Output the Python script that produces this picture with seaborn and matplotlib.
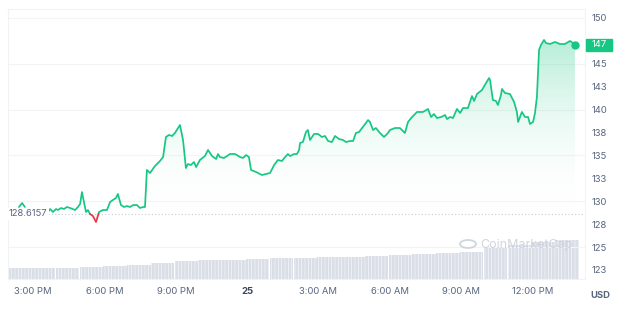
import numpy as np
import pandas as pd
import matplotlib
matplotlib.use("Agg")
import matplotlib.pyplot as plt
from matplotlib.patches import Circle, Rectangle
from matplotlib.path import Path
import matplotlib.transforms as mtransforms
import seaborn as sns

# ---- data (hours after 3:00 PM, price in USD) ----
hours = [-0.59, -0.46, -0.34, -0.20,
         0.63, 0.72, 0.84, 0.97, 1.05, 1.18, 1.30, 1.43, 1.56, 1.77, 1.89, 1.98,
         2.06, 2.15, 2.23, 2.31, 2.40, 2.52, 2.65, 2.78, 2.94, 3.11, 3.24, 3.36,
         3.49, 3.57, 3.70, 3.83, 3.95, 4.08, 4.21, 4.37, 4.50, 4.63, 4.71, 4.79,
         4.92, 5.13, 5.34, 5.47, 5.59, 5.72, 5.85, 5.97, 6.18, 6.31, 6.43, 6.52,
         6.64, 6.77, 6.86, 7.02, 7.23, 7.36, 7.53, 7.70, 7.78, 7.86, 8.03, 8.16,
         8.28, 8.50, 8.71, 8.83, 8.96, 9.08, 9.17, 9.38, 9.63, 9.80, 9.97, 10.14,
         10.30, 10.47, 10.60, 10.72, 10.81, 10.98, 11.10, 11.19, 11.23, 11.35,
         11.48, 11.56, 11.65, 11.82, 11.99, 12.15, 12.28, 12.41, 12.57, 12.70,
         12.87, 13.04, 13.16, 13.33, 13.46, 13.58, 13.71, 13.84, 14.00, 14.09,
         14.17, 14.30, 14.42, 14.59, 14.76, 14.93, 15.01, 15.22, 15.43, 15.64,
         15.77, 15.94, 16.15, 16.40, 16.61, 16.74, 16.86, 16.99, 17.16, 17.33,
         17.41, 17.54, 17.66, 17.83, 17.96, 18.08, 18.29, 18.46, 18.55, 18.67,
         18.88, 19.05, 19.18, 19.22, 19.34, 19.47, 19.55, 19.68, 19.72, 19.85,
         20.06, 20.23, 20.35, 20.40, 20.56, 20.69, 20.82, 20.90, 21.03, 21.11,
         21.19, 21.24, 21.28, 21.36, 21.49, 21.57, 21.74, 21.95, 22.16, 22.37,
         22.58, 22.71, 22.79]
prices = [129.37, 129.80, 129.37, None,
          128.82, 129.15, 128.82, 129.15, 129.04, 129.26, 129.15, 129.37, 129.26, 129.04, 129.37, 129.69,
          131.00, 129.80, 128.82, 129.04, 128.60, 128.38, 127.73, 128.82, 129.04, 129.04, 129.91, 130.13,
          130.35, 130.79, 129.58, 129.37, 129.47, 129.37, 129.58, 129.58, 129.26, 129.37, 129.37, 133.41,
          133.08, 133.84, 134.39, 134.82, 137.01, 137.23, 137.12, 137.45, 138.32, 136.68, 133.62, 134.06,
          133.95, 134.28, 133.73, 134.50, 134.93, 135.59, 134.93, 134.61, 135.15, 134.82, 134.72, 134.93,
          135.15, 135.15, 134.82, 134.72, 135.04, 134.82, 133.41, 133.19, 132.86, 132.97, 133.08, 133.95,
          134.50, 134.39, 134.82, 135.15, 134.93, 135.15, 135.15, 135.59, 136.35, 136.46,
          137.55, 137.77, 136.68, 137.34, 137.34, 137.01, 137.12, 136.57, 136.46, 137.12,
          136.79, 136.68, 136.46, 136.57, 136.57, 137.45, 137.55, 137.99, 138.54, 138.86,
          138.65, 137.77, 137.99, 137.45, 137.01, 137.45, 137.77, 137.99, 137.99, 137.45,
          138.65, 139.19, 139.74, 139.74, 140.07, 139.19, 139.52, 139.08, 139.19, 139.41,
          138.97, 139.19, 139.08, 140.07, 139.63, 140.17, 140.17, 141.48, 140.94, 141.70,
          142.14, 142.90, 143.45, 143.23, 141.05, 140.94, 140.50, 141.59, 142.25, 141.81,
          141.70, 140.83, 139.74, 138.65, 139.74, 139.19, 139.19, 138.43, 138.65, 139.63,
          141.37, 144.32, 146.51, 147.05, 147.60, 147.27, 147.16, 147.38, 147.16, 147.16,
          147.49, 147.27, 147.05]
open_price = 128.6157

# hourly volume blocks (relative units)
vol_hours = list(range(-1, 23))
volumes = [11, 11, 11.5, 12.5, 13, 14, 16, 18, 19, 19.5, 20, 21, 21.5, 22,
           22.5, 23, 24, 25, 26, 27, 32, 34, 37, 39]

x_ticks = [0, 3, 6, 9, 12, 15, 18, 21]
x_labels = ["3:00 PM", "6:00 PM", "9:00 PM", "25", "3:00 AM", "6:00 AM", "9:00 AM", "12:00 PM"]
y_ticks = [150, 145, 142.5, 140, 137.5, 135, 132.5, 130, 127.5, 125, 122.5]
y_labels = ["150", "145", "143", "140", "138", "135", "133", "130", "128", "125", "123"]

GREEN = "#16c784"
RED = "#ea3943"
GRAY = "#58667e"
XMIN, XMAX = -1.051, 23.213
YMIN, YMAX = 121.51, 150.98

sns.set_theme(style="white")
plt.rcParams['font.family'] = ['Inter', 'DejaVu Sans']
plt.rcParams['hatch.linewidth'] = 0.35

fig = plt.figure(figsize=(6.24, 3.12), dpi=100)
ax = fig.add_axes([8/624, 1-279/312, (585-8)/624, (279-9)/312])
ax.set_xlim(XMIN, XMAX)
ax.set_ylim(YMIN, YMAX)

# volume on a twin axis
axv = ax.twinx()
axv.bar(np.array(vol_hours) - 0.051 + 0.5, volumes, width=0.985, color="#dadee7",
        edgecolor="white", hatch="|||||", lw=0, zorder=1)
axv.set_ylim(0, 270)
axv.set_yticks([])
for s in axv.spines.values():
    s.set_visible(False)
ax.set_zorder(axv.get_zorder() + 1)
ax.patch.set_visible(False)

# gridlines
for g in [125, 130, 135, 140, 145, 150]:
    ax.axhline(g, color="#f3f4f6", lw=0.8, zorder=0)
for s in ax.spines.values():
    s.set_color("#f1f2f4")
    s.set_linewidth(0.8)

# build segments with baseline crossings inserted
df = pd.DataFrame({"h": hours, "p": [np.nan if v is None else v for v in prices]})
df["seg"] = df["p"].isna().cumsum()
df = df.dropna()

rows = []
for sid, g in df.groupby("seg"):
    hh = g["h"].to_numpy(); pp = g["p"].to_numpy()
    for i in range(len(hh)):
        if i > 0 and (pp[i-1] - open_price) * (pp[i] - open_price) < 0:
            t = (open_price - pp[i-1]) / (pp[i] - pp[i-1])
            rows.append((hh[i-1] + t * (hh[i] - hh[i-1]), open_price, sid))
        rows.append((hh[i], pp[i], sid))
full = pd.DataFrame(rows, columns=["h", "p", "seg"])

def runs(mask_fn, label):
    out = []
    run = 0
    prev_ok = False
    prev_seg = None
    for h_, p_, s_ in full.itertuples(index=False):
        ok = mask_fn(p_)
        if ok and (not prev_ok or s_ != prev_seg):
            run += 1
        if ok:
            out.append((h_, p_, f"{label}{s_}_{run}"))
        prev_ok = ok
        prev_seg = s_
    return pd.DataFrame(out, columns=["h", "p", "run"])

green_df = runs(lambda p: p >= open_price - 1e-9, "g")
red_df = runs(lambda p: p <= open_price + 1e-9, "r")

# gradient fill under line down to open price
paths = []
for sid, g in full.groupby("seg"):
    poly = ax.fill_between(g["h"], g["p"], open_price, where=g["p"] >= open_price,
                           interpolate=True, color="none", lw=0)
    paths.extend(poly.get_paths())
clip = Path.make_compound_path(*paths)
grad = np.linspace(0, 1, 256).reshape(-1, 1)
cmap = matplotlib.colors.LinearSegmentedColormap.from_list(
    "gfill", [(1, 1, 1, 0), (0.086, 0.78, 0.52, 0.32)])
im = ax.imshow(grad, aspect="auto", cmap=cmap, origin="lower",
               extent=[XMIN, XMAX, open_price, 147.8], zorder=1)
im.set_clip_path(clip, transform=ax.transData)

ax.fill_between(full["h"], full["p"], open_price, where=full["p"] <= open_price,
                interpolate=True, color=RED, alpha=0.08, lw=0, zorder=1)

sns.lineplot(data=green_df, x="h", y="p", units="run", estimator=None, sort=False,
             color=GREEN, lw=1.25, ax=ax, zorder=3)
sns.lineplot(data=red_df, x="h", y="p", units="run", estimator=None, sort=False,
             color=RED, lw=1.25, ax=ax, zorder=3)
ax.set_xlim(XMIN, XMAX)
ax.set_ylim(YMIN, YMAX)

# open price dotted line and label
ax.axhline(open_price, color="#c4c9d2", lw=0.8, ls=(0, (1, 2)), zorder=2)
ax.text(-0.2, open_price, f"{open_price:.4f}", fontsize=6.8, color=GRAY,
        va="center", ha="center", zorder=4,
        bbox=dict(boxstyle="square,pad=0.15", fc="white", ec="none"))

# end dot
last_h = hours[-1]; last_p = prices[-1]
ax.plot([last_h], [last_p], "o", color=GREEN, ms=5, zorder=5, clip_on=False)

# axes labels
ax.set_xlabel(""); ax.set_ylabel("")
ax.set_xticks(x_ticks)
ax.set_xticklabels(x_labels, fontsize=6.8, color=GRAY)
for lbl in ax.get_xticklabels():
    if lbl.get_text() == "25":
        lbl.set_fontweight("bold")
        lbl.set_color("#3d4657")
ax.tick_params(axis="x", length=0, pad=6)
ax.yaxis.tick_right()
ax.set_yticks(y_ticks)
ax.set_yticklabels(y_labels, fontsize=6.8, color=GRAY)
ax.tick_params(axis="y", length=0, pad=5)

# current price tag
blend = mtransforms.blended_transform_factory(ax.transAxes, ax.transData)
ax.add_patch(Rectangle((1 + 1/577, last_p - 0.62), 26/577, 1.3, transform=blend,
                       color=GREEN, clip_on=False, zorder=6))
ax.text(1 + 14/577, last_p + 0.03, f"{last_p:.0f}", transform=blend,
        fontsize=6.8, color="white", va="center", ha="center", zorder=7)

# USD label
fig.text(590/624, 1-296/312, "USD", fontsize=6.8, color=GRAY, fontweight="bold",
         ha="left", va="center")

# watermark
fig.text(480/624, 1-245/312, "CoinMarketCap", fontsize=9, color="#c9ced8",
         ha="left", va="center", alpha=0.85, zorder=10)
fig.patches.append(Circle((468/624, 1-244/312), 8/624, transform=fig.transFigure,
                          fill=False, ec="#c9ced8", lw=1.3, alpha=0.85))

fig.savefig("out.png", dpi=100)
